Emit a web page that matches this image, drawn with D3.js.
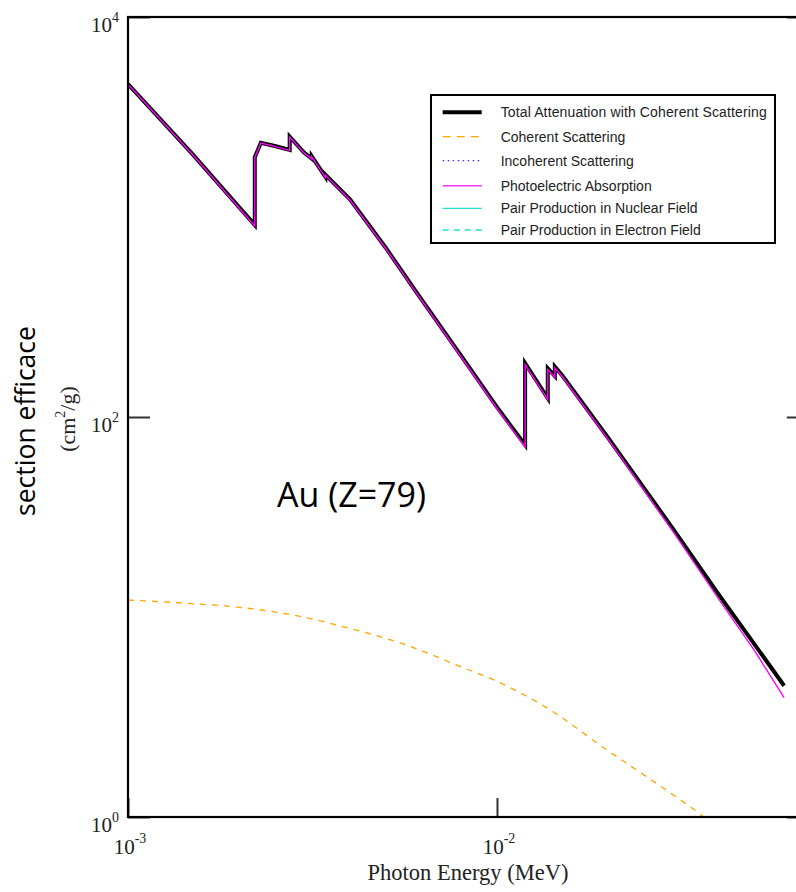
<!DOCTYPE html>
<html>
<head>
<meta charset="utf-8">
<script src="https://cdn.jsdelivr.net/npm/d3@7"></script>
<style>
  html, body { margin: 0; padding: 0; background: #fff; }
  svg { display: block; }
</style>
</head>
<body>
<svg id="chart" width="796" height="892"></svg>
<script>
// ---------- data ----------
const energyMeV = [0.001, 0.0015, 0.002, 0.002206, 0.002206, 0.002291, 0.0025, 0.002743, 0.002743,
  0.003, 0.003148, 0.003148, 0.003425, 0.003425, 0.004, 0.005, 0.006, 0.008, 0.01,
  0.01192, 0.01192, 0.01373, 0.01373, 0.01435, 0.01435, 0.015, 0.02, 0.03, 0.04, 0.05, 0.06];
const totalAttenuation = [4624, 2050, 1120, 912, 1990, 2350, 2265, 2163, 2521,
  2102, 1960, 2010, 1590, 1630, 1222, 700, 430, 202, 112,
  72.4, 185.6, 124, 175.2, 160.3, 178.4, 162, 78.8, 27.6, 12.85, 7.26, 4.53];
const photoelectric = [4610, 2040, 1110, 902, 1980, 2340, 2255, 2153, 2511,
  2092, 1950, 2000, 1580, 1620, 1213, 694, 426, 199.5, 110.3,
  70.8, 183, 122, 172.5, 158, 176, 159.8, 77.5, 26.8, 12.2, 6.75, 3.95];

const coherentEnergy = [0.001, 0.00144, 0.00205, 0.0028, 0.00408, 0.00557, 0.00778, 0.0104,
  0.0142, 0.0194, 0.02545, 0.03005, 0.0355, 0.04];
const coherentScattering = [12.16, 11.71, 11.13, 10.23, 8.68, 7.33, 5.75, 4.61,
  3.36, 2.23, 1.59, 1.288, 1.035, 0.86];

const xTickValues = [0.001, 0.01];
const xTickExponents = ["-3", "-2"];
const yTickValues = [1, 100, 10000];
const yTickExponents = ["0", "2", "4"];

const legendLabels = [
  "Total Attenuation with Coherent Scattering",
  "Coherent Scattering",
  "Incoherent Scattering",
  "Photoelectric Absorption",
  "Pair Production in Nuclear Field",
  "Pair Production in Electron Field"
];

// ---------- layout ----------
const svg = d3.select("#chart");
const L = 128, R = 808.8, T = 17, B = 817;
const x = d3.scaleLog().domain([0.001, 0.07]).range([L, R]);
const y = d3.scaleLog().domain([1, 10000]).range([B, T]);

const serif = "'Liberation Serif', 'Times New Roman', serif";
const sans = "'Liberation Sans', Arial, Helvetica, sans-serif";
const calibriLike = "'Open Sans', 'Noto Sans', sans-serif";

svg.append("defs").append("clipPath").attr("id", "plotClip")
  .append("rect").attr("x", L).attr("y", T).attr("width", R - L).attr("height", B - T);

// ---------- curves ----------
const plotG = svg.append("g").attr("clip-path", "url(#plotClip)");

const totalLine = d3.line().x((d, i) => x(energyMeV[i])).y(d => y(d));
plotG.append("path").datum(totalAttenuation)
  .attr("d", totalLine)
  .attr("fill", "none").attr("stroke", "#000").attr("stroke-width", 4)
  .attr("stroke-linejoin", "miter");

plotG.append("path").datum(photoelectric)
  .attr("d", totalLine)
  .attr("fill", "none").attr("stroke", "#ff00ff").attr("stroke-width", 1.4);

const cohLine = d3.line().x((d, i) => x(coherentEnergy[i])).y(d => y(d)).curve(d3.curveMonotoneX);
plotG.append("path").datum(coherentScattering)
  .attr("d", cohLine)
  .attr("fill", "none").attr("stroke", "#ffa500").attr("stroke-width", 1.3)
  .attr("stroke-dasharray", "6,6");

// ---------- axes ----------
const axisG = svg.append("g");
axisG.append("g").attr("transform", `translate(${L},0)`)
  .call(d3.axisRight(y).tickValues(yTickValues).tickSize(22).tickFormat(""))
  .call(g => g.select(".domain").remove())
  .call(g => g.selectAll("line").attr("stroke", "#333").attr("stroke-width", 2));
axisG.append("g").attr("transform", `translate(${R},0)`)
  .call(d3.axisLeft(y).tickValues(yTickValues).tickSize(22).tickFormat(""))
  .call(g => g.select(".domain").remove())
  .call(g => g.selectAll("line").attr("stroke", "#333").attr("stroke-width", 2));
axisG.append("g").attr("transform", `translate(0,${B})`)
  .call(d3.axisTop(x).tickValues(xTickValues).tickSize(19).tickFormat(""))
  .call(g => g.select(".domain").remove())
  .call(g => g.selectAll("line").attr("stroke", "#333").attr("stroke-width", 2));

// frame
svg.append("rect").attr("x", L).attr("y", T).attr("width", R - L).attr("height", B - T)
  .attr("fill", "none").attr("stroke", "#000").attr("stroke-width", 2.2);

// y tick labels
yTickValues.forEach((v, i) => {
  const t = svg.append("text")
    .attr("x", 119).attr("y", y(v) + 14.5)
    .attr("text-anchor", "end")
    .attr("font-family", serif).attr("font-size", 21).attr("fill", "#222");
  t.append("tspan").text("10");
  t.append("tspan").attr("dy", -10).attr("font-size", 14).text(yTickExponents[i]);
});

// x tick labels
xTickValues.forEach((v, i) => {
  const t = svg.append("text")
    .attr("x", x(v) + 2).attr("y", 854)
    .attr("text-anchor", "middle")
    .attr("font-family", serif).attr("font-size", 21).attr("fill", "#222");
  t.append("tspan").text("10");
  t.append("tspan").attr("dy", -11).attr("font-size", 14).text(xTickExponents[i]);
});

// axis titles
svg.append("text")
  .attr("x", 468).attr("y", 880)
  .attr("text-anchor", "middle")
  .attr("font-family", serif).attr("font-size", 22.5).attr("fill", "#222")
  .text("Photon Energy (MeV)");

const unit = svg.append("text")
  .attr("transform", "translate(75,419) rotate(-90)")
  .attr("text-anchor", "middle")
  .attr("font-family", serif).attr("font-size", 22).attr("fill", "#222");
unit.append("tspan").text("(cm");
unit.append("tspan").attr("dy", -10).attr("font-size", 14).text("2");
unit.append("tspan").attr("dy", 10).text("/g)");

svg.append("text")
  .attr("transform", "translate(35,421) rotate(-90)")
  .attr("text-anchor", "middle")
  .attr("font-family", calibriLike).attr("font-size", 26.5).attr("fill", "#000")
  .text("section efficace");

svg.append("text")
  .attr("x", 277).attr("y", 507)
  .attr("font-family", calibriLike).attr("font-size", 34).attr("fill", "#000")
  .text("Au (Z=79)");

// ---------- legend ----------
const legendStyles = [
  { stroke: "#000", width: 4, dash: null },
  { stroke: "#ffa500", width: 1.3, dash: "8,6" },
  { stroke: "#3333ff", width: 1.3, dash: "1.5,3.5" },
  { stroke: "#ff33ff", width: 1.6, dash: null },
  { stroke: "#22e0cc", width: 1.3, dash: null },
  { stroke: "#22e0cc", width: 1.3, dash: "6,5" }
];
const legendRowY = [112.3, 136.7, 160.7, 185.7, 208.3, 230];
const lg = svg.append("g");
lg.append("rect").attr("x", 431).attr("y", 95).attr("width", 344).attr("height", 148)
  .attr("fill", "#fff").attr("stroke", "#000").attr("stroke-width", 2);
legendLabels.forEach((lab, i) => {
  const s = legendStyles[i];
  lg.append("line").attr("x1", 442.7).attr("x2", 481.7)
    .attr("y1", legendRowY[i]).attr("y2", legendRowY[i])
    .attr("stroke", s.stroke).attr("stroke-width", s.width)
    .attr("stroke-dasharray", s.dash);
  lg.append("text").attr("x", 500.7).attr("y", legendRowY[i] + 4.8)
    .attr("font-family", sans).attr("font-size", 14).attr("fill", "#222")
    .attr("textLength", i === 0 ? 266 : null)
    .text(lab);
});
</script>
</body>
</html>
